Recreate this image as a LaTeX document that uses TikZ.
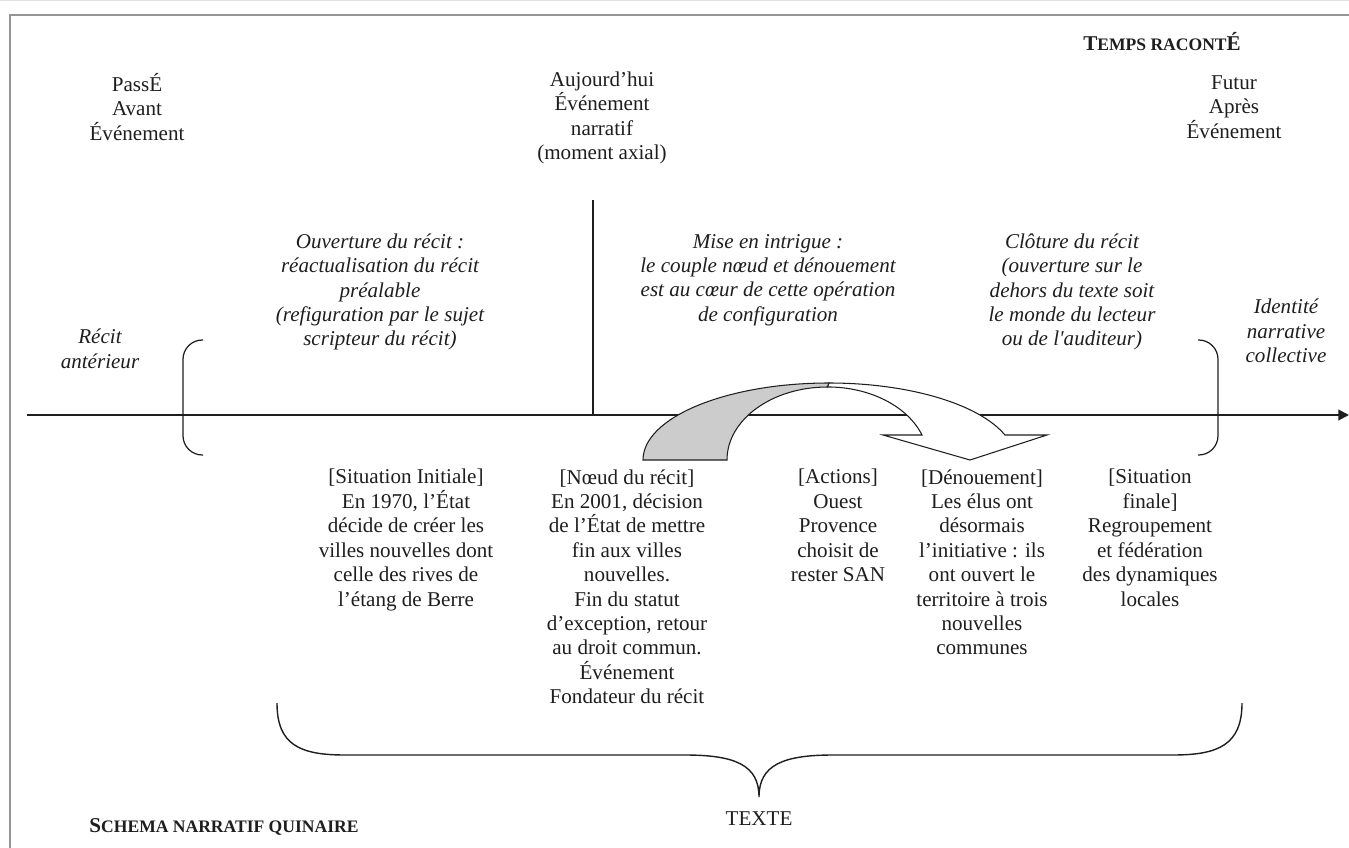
\documentclass[tikz,border=0pt]{standalone}
\usepackage{fontspec}
\setmainfont{Liberation Serif}
\usetikzlibrary{arrows.meta, positioning, calc}
\definecolor{framegray}{RGB}{150,150,150}
\definecolor{edgegray}{RGB}{225,225,225}
\definecolor{bandgray}{RGB}{204,204,204}
\definecolor{inkgray}{RGB}{30,30,30}
\newcommand{\smallcap}[1]{{\fontsize{10}{12}\selectfont #1}}

\begin{document}
\begin{tikzpicture}[
        x=0.02cm, y=-0.02cm,
        txt/.style={align=center, inner sep=0pt, text=inkgray, font=\fontsize{12}{13.9}\selectfont},
        phase/.style={txt, font=\fontsize{12}{13.9}\selectfont\itshape},
        event/.style={txt, anchor=north},
        bracket/.style={draw=inkgray, line width=0.7pt, rounded corners=11pt},
        axisline/.style={draw=inkgray, line width=1.1pt, -{Triangle[length=6pt, width=6pt]}}
    ]
        \clip (0,0) rectangle (1349,848);
        \useasboundingbox (0,0) rectangle (1349,848);
        \draw[edgegray] (0,0.5) -- (1349,0.5);
        \draw[framegray, line width=0.8pt] (10,15) rectangle (1400,900);

        % time labels
        \node[txt] (temps) at (1162,42) {\textbf{T\smallcap{EMPS RACONT}É}};
        \node[txt] (passe) at (137,107) {PassÉ\\Avant\\Événement};
        \node[txt] (aujourdhui) at (602,118) {Aujourd’hui\\Événement\\narratif\\(moment axial)};
        \node[txt] (futur) at (1234,107) {Futur\\Après\\Événement};

        % phases of the narrative
        \node[phase] (ouverture) at (380,292) {Ouverture du récit :\\réactualisation du récit\\préalable\\(refiguration par le sujet\\scripteur du récit)};
        \node[phase] (intrigue) at (768,280) {Mise en intrigue :\\le couple nœud et dénouement\\est au cœur de cette opération\\de configuration};
        \node[phase] (cloture) at (1072,292) {Clôture du récit\\(ouverture sur le\\dehors du texte soit\\le monde du lecteur\\ou de l\textquotesingle auditeur)};
        \node[phase] (anterieur) at (100,349) {Récit\\antérieur};
        \node[phase] (identite) at (1286,331) {Identité\\narrative\\collective};

        % timeline
        \coordinate (axstart) at (27,415);
        \coordinate (axend) at (1349,415);
        \coordinate (axialtop) at (593,200);
        \coordinate (axialfoot) at (593,415);
        \draw[axisline] (axstart) -- (axend);
        \draw[inkgray, line width=0.8pt] (axialtop) -- (axialfoot);

        \draw[bracket] (203,340) -- (183,340) -- (183,455) -- (203,455);
        \draw[bracket] (1198,340) -- (1218,340) -- (1218,455) -- (1198,455);

        % curved arrow
        \filldraw[draw=inkgray, fill=bandgray, line width=0.6pt] (643,460)
            arc[start angle=180, end angle=270, x radius=186, y radius=77]
            -- (827.5,387)
            arc[start angle=270, end angle=180, x radius=100.5, y radius=73] -- cycle;
        \filldraw[draw=inkgray, fill=white, line width=0.6pt] (829,383)
            arc[start angle=270, end angle=341.06, x radius=186, y radius=77]
            -- (1047,435) -- (970,460) -- (883,435) -- (922,435)
            arc[start angle=340, end angle=270, x radius=100.5, y radius=73] -- cycle;

        % five stages
        \node[event] (sitinit) at (406,469) {[Situation Initiale]\\En 1970, l’État\\décide de créer les\\villes nouvelles dont\\celle des rives de\\l’étang de Berre};
        \node[event] (noeud) at (627,469) {[Nœud du récit]\\En 2001, décision\\de l’État de mettre\\fin aux villes\\nouvelles.\\Fin du statut\\d’exception, retour\\au droit commun.\\Événement\\Fondateur du récit};
        \node[event] (actions) at (838,469) {[Actions]\\Ouest\\Provence\\choisit de\\rester SAN};
        \node[event] (denouement) at (982,469) {[Dénouement]\\Les élus ont\\désormais\\l’initiative : ils\\ont ouvert le\\territoire à trois\\nouvelles\\communes};
        \node[event] (sitfinale) at (1150,469) {[Situation\\finale]\\Regroupement\\et fédération\\des dynamiques\\locales};

        % brace over the text
        \coordinate (braceleft) at (277,703);
        \coordinate (braceright) at (1242,703);
        \coordinate (bracetip) at (759,797);
        \draw[inkgray, line width=0.8pt] (braceleft) .. controls (277,745) and (300,755) .. (345,755)
            -- (685,755) .. controls (735,755) and (759,765) .. (bracetip)
            .. controls (759,765) and (783,755) .. (833,755)
            -- (1173,755) .. controls (1218,755) and (1242,745) .. (braceright);
        \node[txt, below=8pt of bracetip] (texte) {TEXTE};
        \node[txt] (schema) at (224,827) {\textbf{S\smallcap{CHEMA NARRATIF QUINAIRE}}};
\end{tikzpicture}
\end{document}
